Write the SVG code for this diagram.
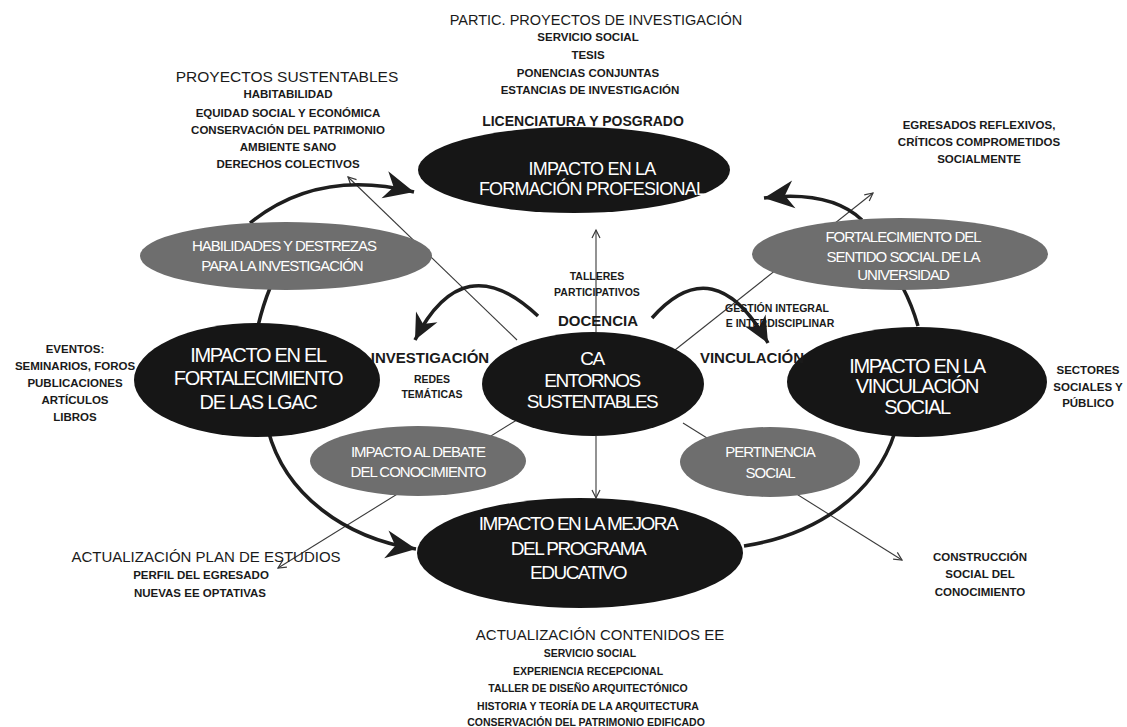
<svg xmlns="http://www.w3.org/2000/svg" width="1127" height="727" viewBox="0 0 1127 727">
<style>
.bk{fill:#161616}
.gr{fill:#6e6e6e}
.wt{fill:#fff;font-family:"Liberation Sans",Arial,sans-serif;text-anchor:middle}
.big{font-size:18px;letter-spacing:-0.8px}
.ca{font-size:19px;letter-spacing:-1.5px}
.lg{font-size:20px;letter-spacing:-1.3px}
.gt{font-size:15px;letter-spacing:-1px}
.hd{fill:#1a1a1a;font-family:"Liberation Sans",Arial,sans-serif;text-anchor:middle;font-size:15px}
.sm{fill:#1a1a1a;font-family:"Liberation Sans",Arial,sans-serif;text-anchor:middle;font-size:11.5px;font-weight:bold}
.xs{fill:#1a1a1a;font-family:"Liberation Sans",Arial,sans-serif;text-anchor:middle;font-size:10.5px;font-weight:bold}
.lb{fill:#1a1a1a;font-family:"Liberation Sans",Arial,sans-serif;text-anchor:middle;font-size:15px;font-weight:bold}
.thin{fill:none;stroke:#3a3a3a;stroke-width:1.1}
.thick{fill:none;stroke:#1e1e1e;stroke-width:3.5}
</style>
<defs>
<marker id="open" viewBox="-10 -6 12 12" refX="0" refY="0" markerWidth="12" markerHeight="12" markerUnits="userSpaceOnUse" orient="auto">
<path d="M-8,-4 L0,0 L-8,4" fill="none" stroke="#3a3a3a" stroke-width="1.2"/>
</marker>
<marker id="big" viewBox="-32 -16 34 32" refX="0" refY="0" markerWidth="34" markerHeight="32" markerUnits="userSpaceOnUse" orient="auto">
<path d="M0,0 L-30,-14 L-21,0 L-30,14 Z" fill="#1e1e1e"/>
</marker>
<marker id="mid" viewBox="-28 -14 30 28" refX="0" refY="0" markerWidth="30" markerHeight="28" markerUnits="userSpaceOnUse" orient="auto">
<path d="M0,0 L-26,-12 L-18,0 L-26,12 Z" fill="#1e1e1e"/>
</marker>
</defs>

<g id="connectors">
<line class="thin" x1="517" y1="340" x2="348" y2="177" marker-end="url(#open)"/>
<line class="thin" x1="675" y1="350" x2="873" y2="193" marker-end="url(#open)"/>
<line class="thin" x1="520" y1="418" x2="278" y2="568" marker-end="url(#open)"/>
<line class="thin" x1="683" y1="423" x2="902" y2="560" marker-end="url(#open)"/>
<line class="thin" x1="596" y1="332" x2="596" y2="230" marker-end="url(#open)"/>
<line class="thin" x1="596" y1="436" x2="596" y2="498" marker-end="url(#open)"/>
<path class="thick" d="M250 223 Q318 168 414 192" marker-end="url(#big)"/>
<path class="thick" d="M270 288 Q263 305 258 326"/>
<path class="thick" d="M268 430 C285 495 345 538 416 549" marker-end="url(#big)"/>
<path class="thick" d="M862 220 Q830 190 764 198" marker-end="url(#big)"/>
<path class="thick" d="M903 288 Q912 305 918 326"/>
<path class="thick" d="M895 432 C875 495 815 535 744 546"/>
<path class="thick" d="M538 316 Q463 245 415 340" marker-end="url(#mid)"/>
<path class="thick" d="M652 318 Q714 248 768 343" marker-end="url(#mid)"/>
</g>

<g id="n-formacion">
<ellipse class="bk" cx="574" cy="170" rx="156" ry="43"/>
<text class="wt big" x="592" y="175">IMPACTO EN LA</text>
<text class="wt big" x="592" y="195">FORMACIÓN PROFESIONAL</text>
</g>
<g id="n-habilidades">
<ellipse class="gr" cx="286" cy="256" rx="146" ry="34"/>
<text class="wt gt" x="284" y="251">HABILIDADES Y DESTREZAS</text>
<text class="wt gt" x="282" y="271">PARA LA INVESTIGACIÓN</text>
</g>
<g id="n-sentido">
<ellipse class="gr" cx="900" cy="254" rx="148" ry="36"/>
<text class="wt gt" x="903" y="242">FORTALECIMIENTO DEL</text>
<text class="wt gt" x="903" y="262">SENTIDO SOCIAL DE LA</text>
<text class="wt gt" x="903" y="280">UNIVERSIDAD</text>
</g>
<g id="n-lgac">
<ellipse class="bk" cx="257" cy="380" rx="123" ry="57"/>
<text class="wt lg" x="258" y="362">IMPACTO EN EL</text>
<text class="wt lg" x="258" y="385">FORTALECIMIENTO</text>
<text class="wt lg" x="258" y="409">DE LAS LGAC</text>
</g>
<g id="n-ca">
<ellipse class="bk" cx="593" cy="384" rx="111" ry="52"/>
<text class="wt ca" x="592" y="365">CA</text>
<text class="wt ca" x="592" y="387">ENTORNOS</text>
<text class="wt ca" x="592" y="408">SUSTENTABLES</text>
</g>
<g id="n-vinculacion">
<ellipse class="bk" cx="917" cy="382" rx="130" ry="55"/>
<text class="wt lg" x="917" y="373">IMPACTO EN LA</text>
<text class="wt lg" x="917" y="393">VINCULACIÓN</text>
<text class="wt lg" x="917" y="414">SOCIAL</text>
</g>
<g id="n-debate">
<ellipse class="gr" cx="418" cy="461" rx="108" ry="35"/>
<text class="wt gt" x="418" y="457">IMPACTO AL DEBATE</text>
<text class="wt gt" x="418" y="477">DEL CONOCIMIENTO</text>
</g>
<g id="n-pertinencia">
<ellipse class="gr" cx="770" cy="462" rx="90" ry="35"/>
<text class="wt gt" x="770" y="457">PERTINENCIA</text>
<text class="wt gt" x="770" y="478">SOCIAL</text>
</g>
<g id="n-programa">
<ellipse class="bk" cx="580" cy="553" rx="163" ry="55"/>
<text class="wt ca" x="578" y="530">IMPACTO EN LA MEJORA</text>
<text class="wt ca" x="578" y="555">DEL PROGRAMA</text>
<text class="wt ca" x="578" y="579">EDUCATIVO</text>
</g>

<g id="labels-top">
<text class="hd" x="596" y="25" style="font-size:14.5px">PARTIC. PROYECTOS DE INVESTIGACIÓN</text>
<text class="sm" x="588" y="41">SERVICIO SOCIAL</text>
<text class="sm" x="588" y="59">TESIS</text>
<text class="sm" x="588" y="77">PONENCIAS CONJUNTAS</text>
<text class="sm" x="590" y="94">ESTANCIAS DE INVESTIGACIÓN</text>
<text class="lb" x="583" y="126" style="font-size:14px">LICENCIATURA Y POSGRADO</text>
</g>
<g id="labels-topleft">
<text class="hd" x="287" y="82" style="font-size:15.5px">PROYECTOS SUSTENTABLES</text>
<text class="sm" x="288" y="98">HABITABILIDAD</text>
<text class="sm" x="288" y="117">EQUIDAD SOCIAL Y ECONÓMICA</text>
<text class="sm" x="288" y="134">CONSERVACIÓN DEL PATRIMONIO</text>
<text class="sm" x="288" y="151">AMBIENTE SANO</text>
<text class="sm" x="288" y="168">DERECHOS COLECTIVOS</text>
</g>
<g id="labels-topright">
<text class="sm" x="979" y="129">EGRESADOS REFLEXIVOS,</text>
<text class="sm" x="979" y="146">CRÍTICOS COMPROMETIDOS</text>
<text class="sm" x="979" y="163">SOCIALMENTE</text>
</g>
<g id="labels-left">
<text class="sm" x="75" y="353">EVENTOS:</text>
<text class="sm" x="75" y="370">SEMINARIOS, FOROS</text>
<text class="sm" x="75" y="387">PUBLICACIONES</text>
<text class="sm" x="75" y="404">ARTÍCULOS</text>
<text class="sm" x="75" y="421">LIBROS</text>
</g>
<g id="labels-right">
<text class="sm" x="1088" y="374">SECTORES</text>
<text class="sm" x="1088" y="391">SOCIALES Y</text>
<text class="sm" x="1088" y="407">PÚBLICO</text>
</g>
<g id="labels-center">
<text class="xs" x="597" y="280">TALLERES</text>
<text class="xs" x="597" y="296">PARTICIPATIVOS</text>
<text class="lb" x="598" y="326">DOCENCIA</text>
<text class="lb" x="430" y="363">INVESTIGACIÓN</text>
<text class="lb" x="752" y="363">VINCULACIÓN</text>
<text class="xs" x="432" y="383">REDES</text>
<text class="xs" x="432" y="398">TEMÁTICAS</text>
<text class="xs" x="777" y="312">GESTIÓN INTEGRAL</text>
<text class="xs" x="780" y="327">E INTERDISCIPLINAR</text>
</g>
<g id="labels-bottomleft">
<text class="hd" x="206" y="562">ACTUALIZACIÓN PLAN DE ESTUDIOS</text>
<text class="sm" x="201" y="579">PERFIL DEL EGRESADO</text>
<text class="sm" x="200" y="597">NUEVAS EE OPTATIVAS</text>
</g>
<g id="labels-bottomright">
<text class="sm" x="980" y="561">CONSTRUCCIÓN</text>
<text class="sm" x="980" y="578">SOCIAL DEL</text>
<text class="sm" x="980" y="596">CONOCIMIENTO</text>
</g>
<g id="labels-bottom">
<text class="hd" x="600" y="640">ACTUALIZACIÓN CONTENIDOS EE</text>
<text class="xs" x="590" y="657">SERVICIO SOCIAL</text>
<text class="xs" x="588" y="675">EXPERIENCIA RECEPCIONAL</text>
<text class="xs" x="588" y="692">TALLER DE DISEÑO ARQUITECTÓNICO</text>
<text class="xs" x="588" y="710">HISTORIA Y TEORÍA DE LA ARQUITECTURA</text>
<text class="xs" x="586" y="726">CONSERVACIÓN DEL PATRIMONIO EDIFICADO</text>
</g>
</svg>
